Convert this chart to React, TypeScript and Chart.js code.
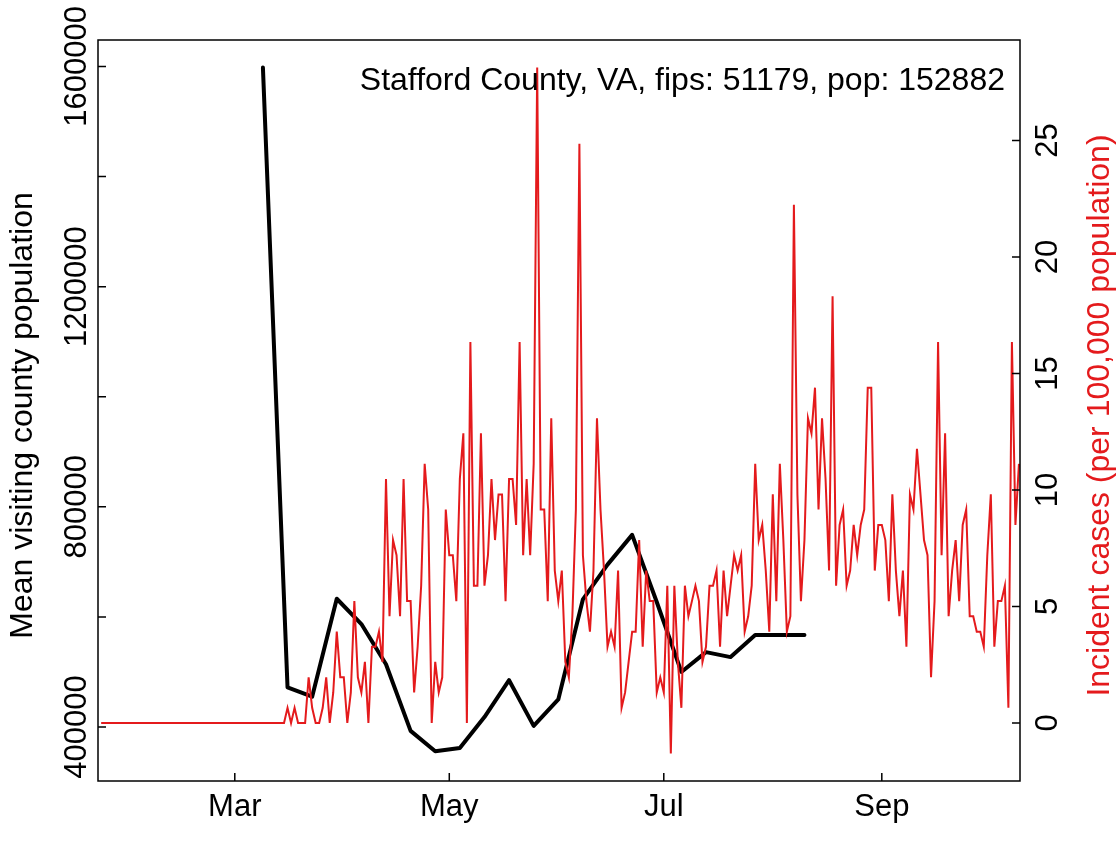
import React, { useEffect, useRef } from 'react';
import { Chart, registerables } from 'chart.js';

Chart.register(...registerables);

// ---- data ----
// x values are days counted from 1 March 2020
const firstIncidentDay = -38; // 22 Jan 2020
// daily incident cases per 100,000 population (22 Jan .. 10 Oct)
const incidentJanMar = [
  0, 0, 0, 0, 0, 0, 0, 0, 0, 0, 0, 0, 0, 0, 0, 0, 0, 0, 0, 0, 0, 0, 0, 0, 0, 0,
  0, 0, 0, 0, 0, 0, 0, 0, 0, 0, 0, 0, 0, 0, 0, 0, 0, 0, 0, 0, 0, 0, 0, 0, 0, 0,
];
const incidentMarApr = [
  0, 0.65, 0, 0.65, 0, 0, 0, 1.96, 0.65, 0, 0, 0.65, 1.96, 0, 1.31, 3.92, 1.96, 1.96, 0, 1.31,
  5.23, 1.96, 1.31, 2.62, 0, 3.27, 3.27, 3.92, 2.62,
];
const incidentAprMay = [
  10.47, 4.58, 7.85, 7.2, 4.58, 10.47, 5.23, 5.23, 1.31, 3.27, 5.89, 11.12, 9.16, 0, 2.62, 1.31,
  1.96, 9.16, 7.2, 7.2, 5.23, 10.47, 12.43, 0, 16.35, 5.89, 5.89, 12.43, 5.89, 7.2, 10.47, 7.85, 9.81,
];
const incidentMayJun = [
  9.81, 5.23, 10.47, 10.47, 8.5, 16.35, 7.2, 10.47, 7.2, 11.12, 28.13, 9.16, 9.16, 5.23, 13.08,
  6.54, 5.23, 6.54, 2.62, 1.96, 4.58, 9.16, 24.86, 7.2, 5.23, 3.92, 6.54, 13.08, 9.16, 6.54,
];
const incidentJunJul = [
  3.27, 3.92, 3.27, 6.54, 0.65, 1.31, 2.62, 3.92, 3.92, 7.85, 3.27, 6.54, 5.23, 5.23, 1.31, 1.96,
  1.31, 5.89, -1.31, 5.89, 2.62, 0.65, 5.89, 4.58, 5.23, 5.89, 5.23, 2.62, 3.27, 5.89, 5.89, 6.54,
  3.27, 6.54, 4.58, 5.89, 7.2, 6.54, 7.2,
];
const incidentJulAug = [
  3.92, 4.58, 5.89, 11.12, 7.85, 8.5, 6.54, 3.92, 9.81, 5.23, 11.12, 7.85, 3.92, 4.58, 22.24, 9.81,
  5.23, 7.85, 13.08, 12.43, 14.39, 9.16, 13.08, 10.47, 6.54, 18.31, 5.89, 8.5, 9.16, 5.89, 6.54,
  8.5, 7.2, 8.5,
];
const incidentAugSep = [
  9.16, 14.39, 14.39, 6.54, 8.5, 8.5, 7.85, 5.23, 9.81, 6.54, 4.58, 6.54, 3.27, 9.81, 9.16, 11.77,
  9.81, 7.85, 7.2, 1.96, 5.23, 16.35, 7.2, 12.43, 4.58, 6.54, 7.85, 5.23, 8.5, 9.16, 4.58, 4.58,
  3.92, 3.92,
];
const incidentSepOct = [3.27, 7.2, 9.81, 3.27, 5.23, 5.23, 5.89, 0.65, 16.35, 8.5, 11.12];

// weekly mean visiting county population
const visitDays = [8, 15, 22, 29, 36, 43, 50, 57, 64, 71, 78, 85, 92, 99, 106, 113, 120, 127, 134, 141, 148, 155, 162];
const visitValues = [
  1598000, 472000, 455000, 633000, 587000, 514000, 393000, 356000, 362000, 418000, 485000, 402000,
  450000, 632000, 695000, 749000, 627000, 500000, 536000, 527000, 567000, 567000, 567000,
];

const monthTickDays = [0, 61, 122, 184];
const monthTickLabels = ['Mar', 'May', 'Jul', 'Sep'];
const leftTicks = [400000, 600000, 800000, 1000000, 1200000, 1400000, 1600000];
const leftTickLabels = ['400000', '', '800000', '', '1200000', '', '1600000'];
const rightTicks = [0, 5, 10, 15, 20, 25];
const rightTickLabels = ['0', '5', '10', '15', '20', '25'];

const titleText = 'Stafford County, VA, fips: 51179, pop: 152882';
const leftAxisTitle = 'Mean visiting county population';
const rightAxisTitle = 'Incident cases (per 100,000 population)';

const RED = '#E41A1C';
const FAMILY = '"Liberation Sans", Arial, Helvetica, sans-serif';
const TICK_FONT = `31px ${FAMILY}`;
const TITLE_FONT = `32px ${FAMILY}`;

const rPlotPlugin = {
  id: 'rPlot',
  afterDraw(chart: any) {
    const { ctx, chartArea: ca, scales } = chart;
    const tick = 8;
    ctx.save();
    ctx.strokeStyle = '#000';
    ctx.lineWidth = 1.5;
    ctx.strokeRect(ca.left, ca.top, ca.right - ca.left, ca.bottom - ca.top);

    ctx.beginPath();
    scales.x.ticks.forEach((t: any) => {
      const px = scales.x.getPixelForValue(t.value);
      ctx.moveTo(px, ca.bottom);
      ctx.lineTo(px, ca.bottom - tick);
    });
    scales.y.ticks.forEach((t: any) => {
      const py = scales.y.getPixelForValue(t.value);
      ctx.moveTo(ca.left, py);
      ctx.lineTo(ca.left + tick, py);
    });
    scales.y1.ticks.forEach((t: any) => {
      const py = scales.y1.getPixelForValue(t.value);
      ctx.moveTo(ca.right, py);
      ctx.lineTo(ca.right - tick, py);
    });
    ctx.stroke();

    ctx.font = TICK_FONT;
    ctx.fillStyle = '#000';
    ctx.textAlign = 'center';
    ctx.textBaseline = 'alphabetic';
    monthTickDays.forEach((d, i) => {
      ctx.fillText(monthTickLabels[i], scales.x.getPixelForValue(d), 816);
    });

    const rotated = (text: string, x: number, y: number, color: string, font: string) => {
      ctx.save();
      ctx.translate(x, y);
      ctx.rotate(-Math.PI / 2);
      ctx.font = font;
      ctx.fillStyle = color;
      ctx.textAlign = 'center';
      ctx.textBaseline = 'alphabetic';
      ctx.fillText(text, 0, 0);
      ctx.restore();
    };
    leftTicks.forEach((v, i) => {
      if (leftTickLabels[i]) rotated(leftTickLabels[i], 86, scales.y.getPixelForValue(v), '#000', TICK_FONT);
    });
    rightTicks.forEach((v, i) => {
      rotated(rightTickLabels[i], 1057, scales.y1.getPixelForValue(v), '#000', TICK_FONT);
    });
    const midY = (ca.top + ca.bottom) / 2 + 5;
    rotated(leftAxisTitle, 32, midY, '#000', TITLE_FONT);
    rotated(rightAxisTitle, 1109, midY, RED, TITLE_FONT);

    ctx.font = TITLE_FONT;
    ctx.fillStyle = '#000';
    ctx.textAlign = 'right';
    ctx.textBaseline = 'alphabetic';
    ctx.fillText(titleText, 1005, 90);
    ctx.restore();
  },
};

export default function App() {
  const ref = useRef<HTMLCanvasElement>(null);
  useEffect(() => {
    const canvas = ref.current;
    if (!canvas) return;
    const incidentRates = [
      ...incidentJanMar, ...incidentMarApr, ...incidentAprMay, ...incidentMayJun,
      ...incidentJunJul, ...incidentJulAug, ...incidentAugSep, ...incidentSepOct,
    ];
    const redPoints = incidentRates.map((v, i) => ({ x: firstIncidentDay + i, y: v }));
    const blackPoints = visitDays.map((d, i) => ({ x: d, y: visitValues[i] }));

    const chart = new Chart(canvas, {
      type: 'line',
      data: {
        datasets: [
          {
            label: 'Incident cases (per 100,000 population)',
            data: redPoints,
            yAxisID: 'y1',
            borderColor: RED,
            borderWidth: 2,
            pointRadius: 0,
            tension: 0,
            order: 0,
          },
          {
            label: 'Mean visiting county population',
            data: blackPoints,
            yAxisID: 'y',
            borderColor: '#000',
            borderWidth: 4,
            pointRadius: 0,
            tension: 0,
            borderJoinStyle: 'round',
            borderCapStyle: 'round',
            order: 1,
          },
        ],
      },
      options: {
        animation: false,
        responsive: false,
        maintainAspectRatio: false,
        layout: { padding: { top: 40, left: 0, right: 0, bottom: 0 } },
        plugins: { legend: { display: false }, tooltip: { enabled: false } },
        scales: {
          x: {
            type: 'linear',
            position: 'bottom',
            min: -38.9,
            max: 223.3,
            grid: { display: false },
            border: { display: false },
            ticks: { display: false },
            afterBuildTicks: (s: any) => {
              s.ticks = monthTickDays.map((v) => ({ value: v }));
            },
            afterFit: (s: any) => {
              s.height = 71;
              s.paddingLeft = 0;
              s.paddingRight = 0;
            },
          },
          y: {
            type: 'linear',
            position: 'left',
            min: 301900,
            max: 1648100,
            grid: { display: false },
            border: { display: false },
            ticks: { display: false },
            afterBuildTicks: (s: any) => {
              s.ticks = leftTicks.map((v) => ({ value: v }));
            },
            afterFit: (s: any) => {
              s.width = 98;
            },
          },
          y1: {
            type: 'linear',
            position: 'right',
            min: -2.49,
            max: 29.31,
            grid: { display: false },
            border: { display: false },
            ticks: { display: false },
            afterBuildTicks: (s: any) => {
              s.ticks = rightTicks.map((v) => ({ value: v }));
            },
            afterFit: (s: any) => {
              s.width = 99;
            },
          },
        },
      },
      plugins: [rPlotPlugin],
    } as any);
    return () => chart.destroy();
  }, []);

  return (
    <div style={{ position: 'fixed', left: 0, top: 0, width: 1119, height: 852, background: '#fff' }}>
      <canvas ref={ref} width={1119} height={852} style={{ display: 'block', width: 1119, height: 852 }} />
    </div>
  );
}
